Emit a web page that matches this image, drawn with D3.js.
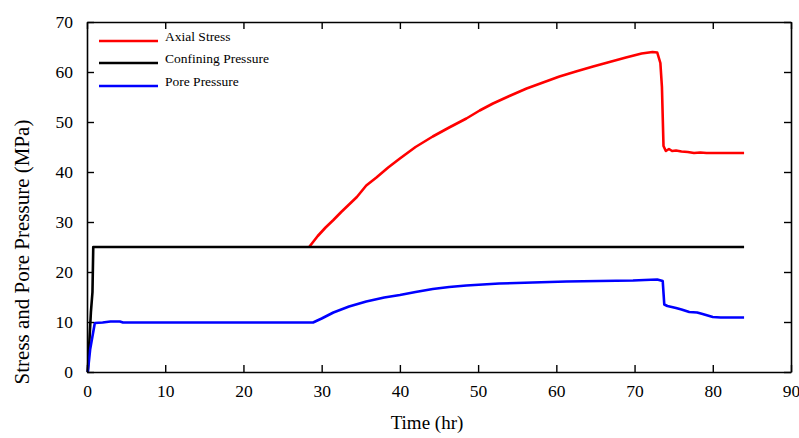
<!DOCTYPE html>
<html>
<head>
<meta charset="utf-8">
<script src="https://cdn.jsdelivr.net/npm/d3@7"></script>
<style>
  body { margin: 0; background: #fff; }
  svg text { font-family: "Liberation Serif", Tinos, "Times New Roman", Times, "DejaVu Serif", serif; fill: #000; }
</style>
</head>
<body>
<svg id="chart"></svg>
<script>
// Chart size
const svgWidth = 799;
const svgHeight = 438;
const margin = { top: 22, right: 8, bottom: 66, left: 87 };
const serifFont = '"Liberation Serif", Tinos, "Times New Roman", Times, "DejaVu Serif", serif';

// Data (time in hr, stress in MPa)
const axialTime   = [28.4, 29.5, 30.5, 31.5, 32.5, 33.5, 34.5, 35.7, 37, 38.5, 40, 42, 44.2, 46.3, 48.5, 50.2, 51.9, 54, 56.2, 58.3, 60.4, 62.5, 64.7, 66.8, 68.9, 70.9, 72.3, 72.9, 73.3, 73.5, 73.7, 74.0, 74.4, 74.8, 75.3, 76, 76.8, 77.6, 78.4, 79.2, 80, 84];
const axialStress = [25, 27.2, 28.9, 30.4, 32, 33.5, 35, 37.3, 38.9, 40.9, 42.7, 45.0, 47.1, 48.9, 50.7, 52.3, 53.7, 55.2, 56.7, 57.9, 59.1, 60.1, 61.1, 62.0, 62.9, 63.7, 64.0, 63.9, 61.8, 57, 45.2, 44.2, 44.6, 44.2, 44.3, 44.1, 44.0, 43.8, 43.9, 43.8, 43.8, 43.8];

const confTime     = [0.1, 0.3, 0.5, 0.7, 0.8, 1.0, 84];
const confPressure = [0, 6, 12, 16, 25, 25, 25];

const poreTime     = [0.1, 0.4, 1.0, 2.0, 3.0, 4.2, 4.6, 28.9, 30, 31.5, 33.5, 35.7, 38, 40, 42, 44.2, 46.3, 48.5, 52.7, 57, 61.3, 65.5, 69.8, 71.3, 72.9, 73.6, 73.8, 74.2, 75.3, 76, 77, 78, 78.7, 80, 81, 84];
const porePressure = [0, 4.5, 9.8, 9.9, 10.1, 10.1, 9.9, 9.9, 10.7, 11.9, 13.1, 14.1, 14.9, 15.4, 16.0, 16.6, 17.0, 17.3, 17.7, 17.9, 18.1, 18.2, 18.3, 18.4, 18.5, 18.2, 13.5, 13.2, 12.8, 12.5, 12.0, 11.9, 11.6, 11.0, 10.9, 10.9];

const xTicks = [0, 10, 20, 30, 40, 50, 60, 70, 80, 90];
const yTicks = [0, 10, 20, 30, 40, 50, 60, 70];

const series = [
  { name: 'Axial Stress', color: '#ff0000', t: axialTime, v: axialStress },
  { name: 'Confining Pressure', color: '#000000', t: confTime, v: confPressure },
  { name: 'Pore Pressure', color: '#0000ff', t: poreTime, v: porePressure }
];

const width = svgWidth - margin.left - margin.right;
const height = svgHeight - margin.top - margin.bottom;

const svg = d3.select('#chart')
  .attr('width', svgWidth)
  .attr('height', svgHeight)
  .style('font-family', serifFont);

const g = svg.append('g')
  .attr('transform', 'translate(' + margin.left + ',' + margin.top + ')');

// Scales
const x = d3.scaleLinear().domain([0, 90]).range([0, width]);
const y = d3.scaleLinear().domain([0, 70]).range([height, 0]);

// Lines
const line = d3.line()
  .x(d => x(d[0]))
  .y(d => y(d[1]));

series.forEach(s => {
  g.append('path')
    .datum(s.t.map((t, i) => [t, s.v[i]]))
    .attr('fill', 'none')
    .attr('stroke', s.color)
    .attr('stroke-width', 2.6)
    .attr('stroke-linejoin', 'round')
    .attr('d', line);
});

// Axes, ticks inward on all four sides
const tickLen = 7;
const axisBottomG = g.append('g')
  .attr('transform', 'translate(0,' + height + ')')
  .call(d3.axisBottom(x).tickValues(xTicks).tickSizeInner(-tickLen).tickSizeOuter(0).tickPadding(13));
const axisTopG = g.append('g')
  .call(d3.axisTop(x).tickValues(xTicks).tickSizeInner(-tickLen).tickSizeOuter(0).tickFormat(''));
const axisLeftG = g.append('g')
  .call(d3.axisLeft(y).tickValues(yTicks).tickSizeInner(-tickLen).tickSizeOuter(0).tickPadding(14));
const axisRightG = g.append('g')
  .attr('transform', 'translate(' + width + ',0)')
  .call(d3.axisRight(y).tickValues(yTicks).tickSizeInner(-tickLen).tickSizeOuter(0).tickFormat(''));

[axisBottomG, axisTopG, axisLeftG, axisRightG].forEach(a => {
  a.attr('font-family', null).attr('font-size', null);
  a.selectAll('.domain').attr('stroke', '#000').attr('stroke-width', 1.6);
  a.selectAll('.tick line').attr('stroke', '#000').attr('stroke-width', 1.4);
  a.selectAll('text')
    .style('font-family', serifFont)
    .style('font-size', '17.5px')
    .attr('fill', '#000');
});

// Axis titles
svg.append('text')
  .attr('x', 427)
  .attr('y', 429)
  .attr('text-anchor', 'middle')
  .style('font-family', serifFont)
  .style('font-size', '19px')
  .text('Time (hr)');

svg.append('text')
  .attr('transform', 'translate(29,252) rotate(-90)')
  .attr('text-anchor', 'middle')
  .style('font-family', serifFont)
  .style('font-size', '21px')
  .text('Stress and Pore Pressure (MPa)');

// Legend
const legend = svg.selectAll('.legend')
  .data(series)
  .enter().append('g')
  .attr('class', 'legend')
  .attr('transform', (d, i) => 'translate(99,' + [41, 63, 86][i] + ')');

legend.append('line')
  .attr('x1', 0).attr('x2', 59)
  .attr('stroke', d => d.color)
  .attr('stroke-width', 2.4);

legend.append('text')
  .attr('x', 66)
  .attr('y', 0)
  .style('font-family', serifFont)
  .style('font-size', '13.5px')
  .text(d => d.name);
</script>
</body>
</html>
